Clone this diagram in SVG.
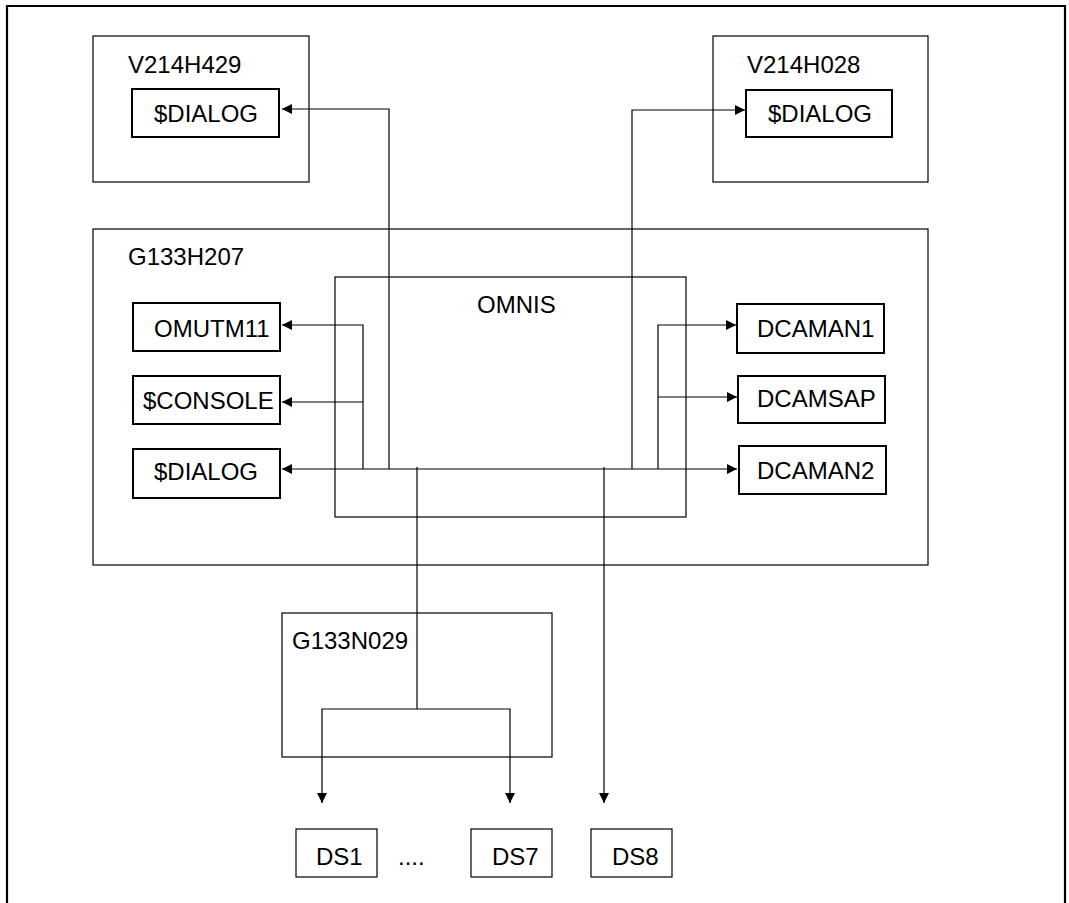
<svg xmlns="http://www.w3.org/2000/svg" width="1069" height="903" viewBox="0 0 1069 903">
<style>
text{font-family:"Liberation Sans",Arial,sans-serif;font-size:24px;fill:#000}
.grp{fill:none;stroke:#000;stroke-width:1.2}
.box{fill:#fff;stroke:#000;stroke-width:2}
.ds{fill:#fff;stroke:#000;stroke-width:1.2}
.ln{fill:none;stroke:#000;stroke-width:1.2}
</style>
<defs>
<marker id="ah" viewBox="0 0 10 10" refX="10" refY="5" markerWidth="11" markerHeight="10" markerUnits="userSpaceOnUse" orient="auto">
<path d="M0,0 L10,5 L0,10 z" fill="#000"/>
</marker>
</defs>
<rect width="1069" height="903" fill="#fff"/>
<path d="M7,903 V6 H1065 V903" fill="none" stroke="#000" stroke-width="2.2"/>

<g id="V214H429">
<rect class="grp" x="93" y="36" width="216" height="146"/>
<text x="128" y="73">V214H429</text>
</g>
<g id="dialog-v429">
<rect class="box" x="132" y="89" width="147" height="48"/>
<text x="154" y="122">$DIALOG</text>
</g>
<g id="V214H028">
<rect class="grp" x="713" y="36" width="215" height="146"/>
<text x="747" y="73">V214H028</text>
</g>
<g id="dialog-v028">
<rect class="box" x="746" y="90" width="146" height="47"/>
<text x="768" y="122">$DIALOG</text>
</g>
<g id="G133H207">
<rect class="grp" x="93" y="229" width="835" height="336"/>
<text x="128" y="265">G133H207</text>
</g>
<g id="OMNIS">
<rect class="grp" x="335" y="277" width="351" height="240"/>
<text x="477" y="313">OMNIS</text>
</g>
<g id="OMUTM11">
<rect class="box" x="133" y="303" width="147" height="48"/>
<text x="154" y="337">OMUTM11</text>
</g>
<g id="CONSOLE">
<rect class="box" x="133" y="376" width="147" height="48"/>
<text x="143" y="409">$CONSOLE</text>
</g>
<g id="dialog-g207">
<rect class="box" x="133" y="449" width="147" height="49"/>
<text x="154" y="480">$DIALOG</text>
</g>
<g id="DCAMAN1">
<rect class="box" x="737" y="304" width="147" height="49"/>
<text x="757" y="337">DCAMAN1</text>
</g>
<g id="DCAMSAP">
<rect class="box" x="738" y="376" width="147" height="47"/>
<text x="757" y="407">DCAMSAP</text>
</g>
<g id="DCAMAN2">
<rect class="box" x="739" y="446" width="147" height="48"/>
<text x="757" y="479">DCAMAN2</text>
</g>
<g id="G133N029">
<rect class="grp" x="282" y="613" width="270" height="144"/>
<text x="292" y="649">G133N029</text>
</g>
<g id="DS1">
<rect class="ds" x="296" y="829" width="81" height="48"/>
<text x="316" y="865">DS1</text>
</g>
<text x="398" y="865">....</text>
<g id="DS7">
<rect class="ds" x="471" y="829" width="81" height="48"/>
<text x="492" y="865">DS7</text>
</g>
<g id="DS8">
<rect class="ds" x="591" y="829" width="81" height="48"/>
<text x="612" y="865">DS8</text>
</g>

<g id="connectors">
<path class="ln" d="M389,469 V109 H282" marker-end="url(#ah)"/>
<path class="ln" d="M632,469 V110 H745" marker-end="url(#ah)"/>
<path class="ln" d="M417,469 H282" marker-end="url(#ah)"/>
<path class="ln" d="M417,469 H737" marker-end="url(#ah)"/>
<path class="ln" d="M363,469 V325 H282" marker-end="url(#ah)"/>
<path class="ln" d="M363,402 H282" marker-end="url(#ah)"/>
<path class="ln" d="M658,469 V325 H736" marker-end="url(#ah)"/>
<path class="ln" d="M658,397 H737" marker-end="url(#ah)"/>
<path class="ln" d="M417,467 V709"/>
<path class="ln" d="M417,709 H322 V803" marker-end="url(#ah)"/>
<path class="ln" d="M417,709 H510 V803" marker-end="url(#ah)"/>
<path class="ln" d="M604,467 V803" marker-end="url(#ah)"/>
</g>
</svg>
